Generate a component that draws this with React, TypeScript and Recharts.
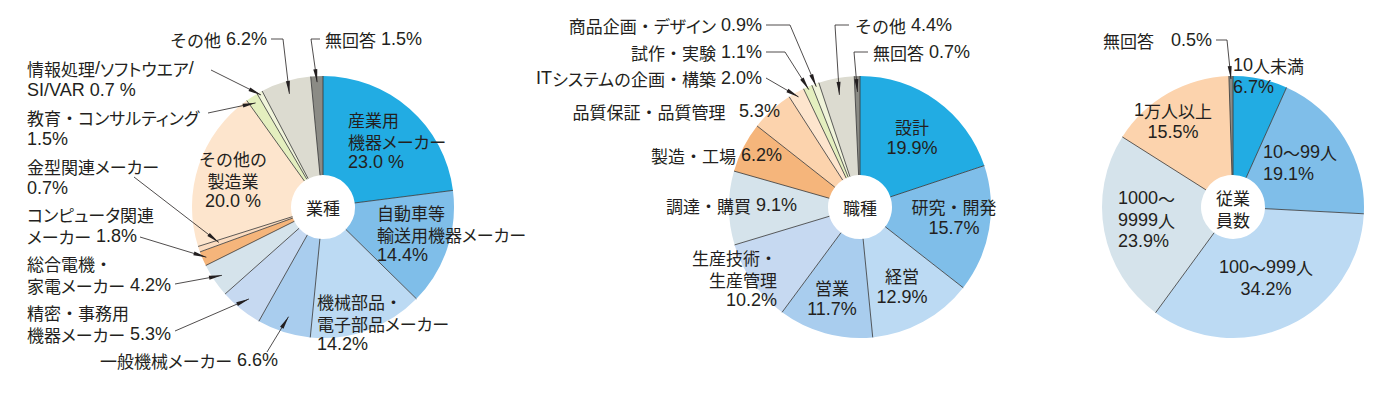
import { PieChart, Pie, Cell } from 'recharts';

// 業種
const industryNames = [
  '産業用機器メーカー', '自動車等輸送用機器メーカー', '機械部品・電子部品メーカー', '一般機械メーカー',
  '精密・事務用機器メーカー', '総合電機・家電メーカー', 'コンピュータ関連メーカー', '金型関連メーカー',
  'その他の製造業', '教育・コンサルティング', '情報処理/ソフトウエア/SI/VAR', 'その他', '無回答',
];
const industryValues = [23.0, 14.4, 14.2, 6.6, 5.3, 4.2, 1.8, 0.7, 20.0, 1.5, 0.7, 6.2, 1.5];

// 職種
const jobNames = [
  '設計', '研究・開発', '経営', '営業', '生産技術・生産管理', '調達・購買', '製造・工場',
  '品質保証・品質管理', 'ITシステムの企画・構築', '試作・実験', '商品企画・デザイン', 'その他', '無回答',
];
const jobValues = [19.9, 15.7, 12.9, 11.7, 10.2, 9.1, 6.2, 5.3, 2.0, 1.1, 0.9, 4.4, 0.7];

// 従業員数
const sizeNames = ['10人未満', '10〜99人', '100〜999人', '1000〜9999人', '1万人以上', '無回答'];
const sizeValues = [6.7, 19.1, 34.2, 23.9, 15.5, 0.5];

const industryColors = [
  '#22ace3', '#7fbee9', '#bcdaf3', '#a9cdee', '#c6d9f1', '#d5e3eb', '#f5b57b',
  '#fbdcc0', '#fde5cd', '#e4efbf', '#f0f4da', '#dcdbd0', '#8b8b85',
];
const jobColors = [
  '#22ace3', '#7fbee9', '#bcdaf3', '#a9cdee', '#c6d9f1', '#d5e3eb', '#f5b57b',
  '#fcd3ad', '#fde5cd', '#e4efbf', '#f0f4da', '#dcdbd0', '#8b8b85',
];
const sizeColors = ['#22ace3', '#7fbee9', '#bcdaf3', '#d5e3eb', '#fcd3ad', '#8b8b85'];

type Spec = {
  x: number;
  y: number;
  anchor?: 'start' | 'middle' | 'end';
  lines: string[];
  leader?: number[][];
  tipR?: number;
};

const industryLabels: Spec[] = [
  { x: 348, y: 119, lines: ['産業用', '機器メーカー', '{v} %'] },
  { x: 377, y: 212, lines: ['自動車等', '輸送用機器メーカー', '{v}%'] },
  { x: 317, y: 301, lines: ['機械部品・', '電子部品メーカー', '{v}%'] },
  { x: 100, y: 360, lines: ['一般機械メーカー {v}%'], leader: [[267, 352]], tipR: 115 },
  { x: 27, y: 312, lines: ['精密・事務用', '機器メーカー {v}%'], leader: [[175, 331]], tipR: 118 },
  { x: 27, y: 263, lines: ['総合電機・', '家電メーカー {v}%'], leader: [[175, 284]], tipR: 122 },
  { x: 27, y: 214, lines: ['コンピュータ関連', 'メーカー {v}%'], leader: [[140, 237]], tipR: 127 },
  { x: 27, y: 166, lines: ['金型関連メーカー', '{v}%'], leader: [[134, 177]], tipR: 110 },
  { x: 233, y: 158, anchor: 'middle', lines: ['その他の', '製造業', '{v} %'] },
  { x: 27, y: 117, lines: ['教育・コンサルティング', '{v}%'], leader: [[208, 113]], tipR: 124 },
  { x: 27, y: 68, lines: ['情報処理/ソフトウエア/', 'SI/VAR {v} %'], leader: [[211, 70]], tipR: 128 },
  { x: 267, y: 39, anchor: 'end', lines: ['その他 {v}%'], leader: [[271, 39], [283, 39]], tipR: 118 },
  { x: 325, y: 39, lines: ['無回答 {v}%'], leader: [[320, 39], [311, 39]], tipR: 125 },
];

const jobLabels: Spec[] = [
  { x: 912, y: 126, anchor: 'middle', lines: ['設計', '{v}%'] },
  { x: 954, y: 206, anchor: 'middle', lines: ['研究・開発', '{v}%'] },
  { x: 902, y: 275, anchor: 'middle', lines: ['経営', '{v}%'] },
  { x: 832, y: 287, anchor: 'middle', lines: ['営業', '{v}%'] },
  { x: 777, y: 257, anchor: 'end', lines: ['生産技術・', '生産管理', '{v}%'] },
  { x: 797, y: 205, anchor: 'end', lines: ['調達・購買 {v}%'] },
  { x: 782, y: 155, anchor: 'end', lines: ['製造・工場 {v}%'] },
  { x: 780, y: 111, anchor: 'end', lines: ['品質保証・品質管理\u2002 {v}%'] },
  { x: 762, y: 78, anchor: 'end', lines: ['ITシステムの企画・構築 {v}%'], leader: [[766, 78]], tipR: 126 },
  { x: 762, y: 52, anchor: 'end', lines: ['試作・実験 {v}%'], leader: [[766, 52], [785, 52]], tipR: 128 },
  { x: 762, y: 25, anchor: 'end', lines: ['商品企画・デザイン {v}%'], leader: [[766, 25], [790, 25]], tipR: 128 },
  { x: 855, y: 25, lines: ['その他 {v}%'], leader: [[849, 25], [835, 25]], tipR: 114 },
  { x: 873, y: 52, lines: ['無回答 {v}%'], leader: [[868, 52], [854, 52]], tipR: 115 },
];

const sizeLabels: Spec[] = [
  { x: 1233, y: 65, lines: ['10人未満', '{v}%'] },
  { x: 1263, y: 152, lines: ['10〜99人', '{v}%'] },
  { x: 1266, y: 267, anchor: 'middle', lines: ['100〜999人', '{v}%'] },
  { x: 1118, y: 198, lines: ['1000〜', '9999人', '{v}%'] },
  { x: 1173, y: 110, anchor: 'middle', lines: ['1万人以上', '{v}%'] },
  { x: 1212, y: 40, anchor: 'end', lines: ['無回答\u3000{v}%'], leader: [[1216, 40], [1227, 40]], tipR: 128 },
];

const CJK_FONT = '"Noto Sans CJK JP", sans-serif';
const LATIN_FONT = '"Liberation Sans", Arial, sans-serif';
const CJK_SIZE = 17;
const LATIN_SIZE = 18;
const INK = '#231f20';
const RAD = Math.PI / 180;
const LINE_H = 21.5;

function polar(cx: number, cy: number, r: number, angle: number) {
  return [cx + r * Math.cos(-angle * RAD), cy + r * Math.sin(-angle * RAD)];
}

// split a line into latin / katakana / other japanese runs
function runs(line: string) {
  return line.match(/[\x20-\x7e]+|[\u30a1-\u30fa\u30fc]+|[^\x20-\x7e\u30a1-\u30fa\u30fc]+/g) ?? [];
}

function MixedText({ x, y, anchor, lines }: { x: number; y: number; anchor: string; lines: string[] }) {
  return (
    <text x={x} y={y} textAnchor={anchor} fill={INK} dominantBaseline="central" style={{ whiteSpace: 'pre' }}>
      {lines.map((l, i) =>
        runs(l).map((r, j) => {
          const latin = /^[\x20-\x7e]+$/.test(r);
          const kana = /^[\u30a1-\u30fa\u30fc]+$/.test(r);
          const pos = j === 0 ? { x, y: y + i * LINE_H } : {};
          return (
            <tspan
              key={`${i}-${j}`}
              {...pos}
              fontFamily={latin ? LATIN_FONT : CJK_FONT}
              fontSize={latin ? LATIN_SIZE : CJK_SIZE}
              style={kana ? { fontFeatureSettings: '"palt"' } : undefined}
            >
              {r}
            </tspan>
          );
        })
      )}
    </text>
  );
}

function makeLabel(specs: Spec[], values: number[], center: string[]) {
  return (props: any) => {
    const { cx, cy, innerRadius, outerRadius, startAngle, midAngle, index } = props;
    const spec = specs[index];
    const [sx1, sy1] = polar(cx, cy, innerRadius, startAngle);
    const [sx2, sy2] = polar(cx, cy, outerRadius, startAngle);
    const v = values[index].toFixed(1);

    let leader = null;
    if (spec.leader && spec.tipR) {
      const [tx, ty] = polar(cx, cy, spec.tipR, midAngle);
      const pts = [...spec.leader, [tx, ty]];
      const [px, py] = pts[pts.length - 2];
      const len = Math.hypot(tx - px, ty - py);
      const ux = (tx - px) / len;
      const uy = (ty - py) / len;
      const bx = tx - ux * 13;
      const by = ty - uy * 13;
      const w = 2;
      leader = (
        <g>
          <polyline
            points={pts.map((p) => p.join(',')).join(' ')}
            fill="none"
            stroke={INK}
            strokeWidth={0.8}
          />
          <polygon
            points={`${tx},${ty} ${bx - uy * w},${by + ux * w} ${bx + uy * w},${by - ux * w}`}
            fill={INK}
          />
        </g>
      );
    }

    const cTop = cy - ((center.length - 1) * 20) / 2;

    return (
      <g>
        <line x1={sx1} y1={sy1} x2={sx2} y2={sy2} stroke="#333" strokeWidth={0.8} />
        {leader}
        <MixedText
          x={spec.x}
          y={spec.y}
          anchor={spec.anchor ?? 'start'}
          lines={spec.lines.map((l) => l.replace('{v}', v))}
        />
        {index === 0 && <MixedText x={cx} y={cTop} anchor="middle" lines={center} />}
      </g>
    );
  };
}

const industryData = industryNames.map((name, i) => ({ name, value: industryValues[i] }));
const jobData = jobNames.map((name, i) => ({ name, value: jobValues[i] }));
const sizeData = sizeNames.map((name, i) => ({ name, value: sizeValues[i] }));

export default function App() {
  const common = {
    dataKey: 'value',
    nameKey: 'name',
    cy: 202,
    innerRadius: 32,
    outerRadius: 131,
    startAngle: 90,
    endAngle: -270,
    stroke: 'none',
    labelLine: false,
    isAnimationActive: false,
  };
  return (
    <div style={{ position: 'absolute', left: 0, top: 0, background: '#fff' }}>
      <PieChart width={1399} height={398}>
        <Pie {...common} data={industryData} cx={318} label={makeLabel(industryLabels, industryValues, ['業種'])}>
          {industryData.map((d, i) => (
            <Cell key={d.name} fill={industryColors[i]} />
          ))}
        </Pie>
        <Pie {...common} data={jobData} cx={855} label={makeLabel(jobLabels, jobValues, ['職種'])}>
          {jobData.map((d, i) => (
            <Cell key={d.name} fill={jobColors[i]} />
          ))}
        </Pie>
        <Pie {...common} data={sizeData} cx={1228} label={makeLabel(sizeLabels, sizeValues, ['従業', '員数'])}>
          {sizeData.map((d, i) => (
            <Cell key={d.name} fill={sizeColors[i]} />
          ))}
        </Pie>
      </PieChart>
    </div>
  );
}
